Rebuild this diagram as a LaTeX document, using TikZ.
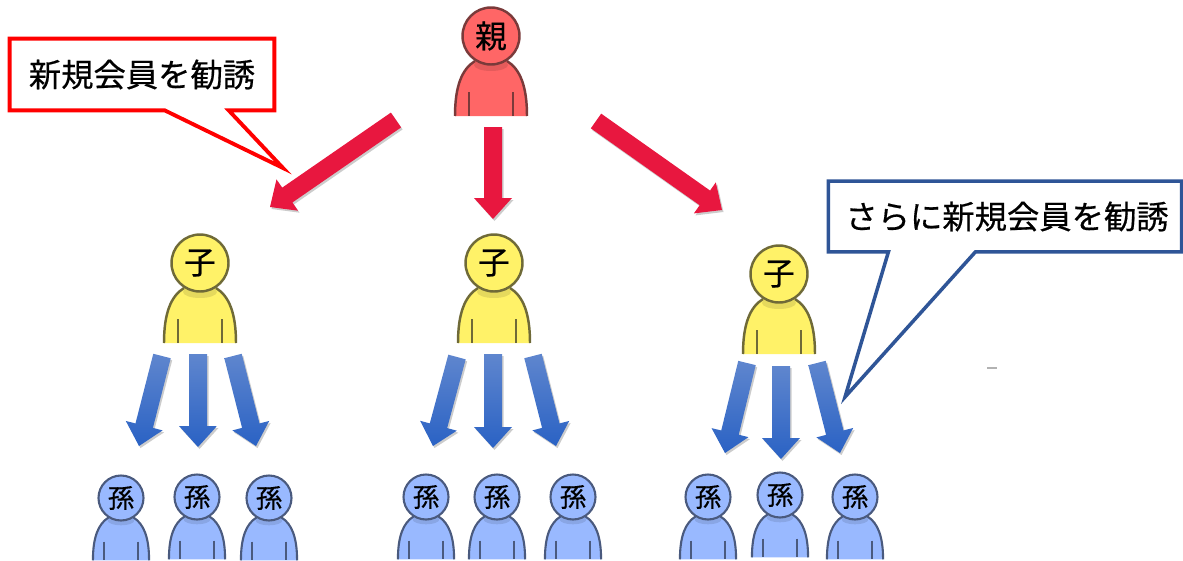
\documentclass[tikz,border=0pt]{standalone}
\usepackage{fontspec}
\setmainfont[FakeBold=0.5]{Noto Sans CJK JP}
\usepackage{xcolor}
\usetikzlibrary{calc,shadows}
\definecolor{oyafill}{HTML}{FF6666}
\definecolor{oyaline}{HTML}{7A3A3A}
\definecolor{kofill}{HTML}{FFF268}
\definecolor{koline}{HTML}{6F6A38}
\definecolor{magofill}{HTML}{99B9FF}
\definecolor{magoline}{HTML}{4A5A7E}
\definecolor{redarrow}{HTML}{E8173F}
\definecolor{bluetop}{HTML}{5F86CE}
\definecolor{bluebottom}{HTML}{2A62C4}
\definecolor{blueframe}{HTML}{2F5597}

% block arrow: style, tail, tip
\newcommand{\blockarrow}[3]{
  \coordinate (bt) at #2;
  \coordinate (be) at #3;
  \coordinate (bn) at ($(be)!0.42cm!(bt)$);
  \path[#1] ($(bt)!0.18cm!90:(be)$) -- ($(bn)!0.18cm!90:(be)$) -- ($(bn)!0.38cm!90:(be)$)
    -- (be) -- ($(bn)!0.38cm!-90:(be)$) -- ($(bn)!0.18cm!-90:(be)$) -- ($(bt)!0.18cm!-90:(be)$) -- cycle;
}

\begin{document}
\begin{tikzpicture}[
  x=0.02cm, y=-0.02cm,
  head/.style={circle, draw, line width=1.4pt, inner sep=0pt, minimum size=1.14cm, font=\fontsize{18}{18}\selectfont},
  smallhead/.style={head, minimum size=0.9cm, line width=1.2pt, font=\fontsize{15}{15}\selectfont},
  oya/.style={draw=oyaline, fill=oyafill},
  ko/.style={draw=koline, fill=kofill},
  mago/.style={draw=magoline, fill=magofill},
  big/.style={line width=1.4pt},
  small/.style={scale=0.78, line width=1.2pt},
  redblock/.style={fill=redarrow, drop shadow={shadow xshift=0.03cm, shadow yshift=-0.04cm, opacity=0.2, fill=black}},
  blueblock/.style={top color=bluetop, bottom color=bluebottom, drop shadow={shadow xshift=0.03cm, shadow yshift=-0.04cm, opacity=0.2, fill=black}},
  saying/.style={inner sep=0pt, font=\fontsize{18.4}{18.4}\selectfont},
  redframe/.style={draw=red, line width=2.2pt, fill=white, miter limit=20},
  navyframe/.style={draw=blueframe, line width=2pt, fill=white, miter limit=20},
  pics/body/.style={code={
    \fill (-36,80) .. controls (-36,50) and (-29,33) .. (-16,25) -- (16,25) .. controls (29,33) and (36,50) .. (36,80) -- cycle;
    \fill[black, opacity=0.1] (0,29) ellipse (17 and 6);
    \draw (-36,80) .. controls (-36,50) and (-29,33) .. (-16,25);
    \draw (36,80) .. controls (36,50) and (29,33) .. (16,25);
    \draw (-22,56) -- (-22,80);
    \draw (22,56) -- (22,80);
  }}
]
  \useasboundingbox (0,0) rectangle (1183,561);

  % parent and children
  \pic[oya, big] at (491,36) {body};
  \node[head, oya] (parent) at (491,36) {親};
  \pic[ko, big] at (200,263) {body};
  \node[head, ko] (koa) at (200,263) {子};
  \pic[ko, big] at (494,263) {body};
  \node[head, ko] (kob) at (494,263) {子};
  \pic[ko, big] at (779,274) {body};
  \node[head, ko] (koc) at (779,274) {子};

  % grandchildren
  \foreach \nm/\px/\py in {aa/121/498, ab/197/497, ac/269/498, ba/426/497, bb/497/497, bc/573/497, ca/708/497, cb/780/495, cc/855/497} {
    \pic[mago, small] at (\px,\py) {body};
    \node[smallhead, mago] (mago\nm) at (\px,\py) {孫};
  }

  % arrows
  \blockarrow{redblock}{($(parent)+(-95,84)$)}{($(koa)+(70,-56)$)}
  \blockarrow{redblock}{($(parent)+(2,91)$)}{($(kob)+(-1,-44)$)}
  \blockarrow{redblock}{($(parent)+(105,85)$)}{($(koc)+(-57,-64)$)}

  \blockarrow{blueblock}{($(koa)+(-38,93)$)}{($(magoaa)+(18,-52)$)}
  \blockarrow{blueblock}{($(koa)+(-2,91)$)}{($(magoab)+(1,-50)$)}
  \blockarrow{blueblock}{($(koa)+(33,93)$)}{($(magoac)+(-13,-52)$)}

  \blockarrow{blueblock}{($(kob)+(-37,94)$)}{($(magoba)+(7,-51)$)}
  \blockarrow{blueblock}{($(kob)+(-1,91)$)}{($(magobb)+(-4,-49)$)}
  \blockarrow{blueblock}{($(kob)+(39,93)$)}{($(magobc)+(-17,-51)$)}

  \blockarrow{blueblock}{($(koc)+(-32,89)$)}{($(magoca)+(17,-44)$)}
  \blockarrow{blueblock}{($(koc)+(2,92)$)}{($(magocb)+(1,-36)$)}
  \blockarrow{blueblock}{($(koc)+(38,89)$)}{($(magocc)+(-15,-44)$)}

  % callouts
  \node[saying, minimum width=5.28cm, minimum height=1.42cm] (recruit) at (142,74.5) {};
  \coordinate (recruittip) at (283,168);
  \draw[redframe] (recruit.north west) -- (recruit.north east) -- (recruit.south east)
    -- ($(recruit.south west)+(219,0)$) -- (recruittip) -- ($(recruit.south west)+(155,0)$) -- (recruit.south west) -- cycle;
  \node[saying] at (recruit) {新規会員を勧誘};

  \node[saying, minimum width=7.05cm, minimum height=1.40cm] (further) at (1005,216.5) {};
  \coordinate (furthertip) at (845,397);
  \draw[navyframe] (further.north west) -- (further.north east) -- (further.south east)
    -- ($(further.south west)+(147,0)$) -- (furthertip) -- ($(further.south west)+(60,0)$) -- (further.south west) -- cycle;
  \node[saying] at (1007,216.5) {さらに新規会員を勧誘};

  % stray mark
  \node[fill=black!30, inner sep=0pt, minimum width=0.2cm, minimum height=0.05cm] (mark) at (992,368) {};
\end{tikzpicture}
\end{document}
